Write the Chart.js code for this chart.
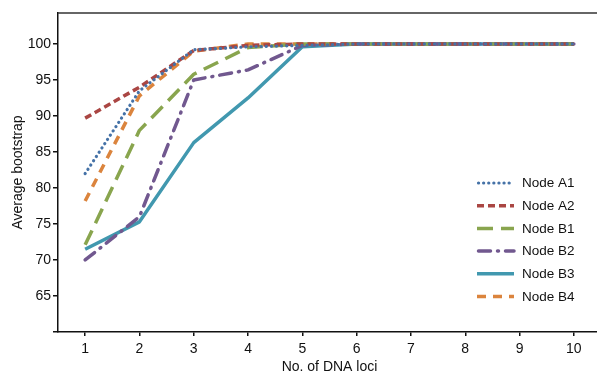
<!DOCTYPE html>
<html><head><meta charset="utf-8">
<script src="https://cdn.jsdelivr.net/npm/chart.js@4/dist/chart.umd.min.js"></script>
<style>
html,body{margin:0;padding:0;background:#fff;overflow:hidden;}
#wrap{width:601px;height:376px;position:relative;}
</style></head>
<body><div id="wrap"><canvas id="c"></canvas></div>
<script>
const loci = [1,2,3,4,5,6,7,8,9,10];
const yTicks = [60,65,70,75,80,85,90,95,100];
const nodeA1 = [82.0, 93.5, 99.2, 99.6, 99.8, 100, 100, 100, 100, 100];
const nodeA2 = [89.7, 94.0, 99.1, 99.8, 100, 100, 100, 100, 100, 100];
const nodeB1 = [72.1, 88.0, 95.8, 99.5, 100, 100, 100, 100, 100, 100];
const nodeB2 = [70.0, 76.0, 95.0, 96.4, 99.8, 100, 100, 100, 100, 100];
const nodeB3 = [71.5, 75.3, 86.3, 92.5, 99.6, 100, 100, 100, 100, 100];
const nodeB4 = [78.2, 92.8, 99.0, 100, 100, 100, 100, 100, 100, 100];
const seriesNames = ['Node A1','Node A2','Node B1','Node B2','Node B3','Node B4'];

const styles = [
  {color:'#4572A7', dash:[0.1,5], cap:'round', w:3.2},
  {color:'#AA4643', dash:[7,4], cap:'butt', w:3.5},
  {color:'#89A54E', dash:[16,8], cap:'butt', w:3.5},
  {color:'#71588F', dash:[12,7,1,7], cap:'round', w:3.5},
  {color:'#4198AF', dash:[], cap:'butt', w:3.5},
  {color:'#DB843D', dash:[9,7], cap:'butt', w:3.5}
];
const series = [nodeA1,nodeA2,nodeB1,nodeB2,nodeB3,nodeB4];
const datasets = series.map((vals,i)=>({
  label: seriesNames[i],
  data: vals.map((v,j)=>({x: loci[j], y: v})),
  borderColor: styles[i].color,
  borderWidth: styles[i].w,
  borderDash: styles[i].dash,
  borderCapStyle: styles[i].cap,
  borderJoinStyle: 'round',
  pointRadius: 0,
  tension: 0,
  fill: false
}));

const FONT = "'Liberation Sans', Arial, sans-serif";

const extras = {
  id:'extras',
  afterDraw(chart){
    const ctx = chart.ctx, ca = chart.chartArea;
    ctx.save();
    ctx.strokeStyle = '#333';
    ctx.lineWidth = 1.5;
    ctx.beginPath();
    ctx.moveTo(ca.left, ca.top);
    ctx.lineTo(chart.width, ca.top);
    ctx.stroke();
    const x0 = 477, x1 = 514, tx = 522, y0 = 183, dy = 22.7;
    ctx.font = "13.5px " + FONT;
    ctx.textBaseline = 'middle';
    ctx.textAlign = 'left';
    styles.forEach((s,i)=>{
      const y = y0 + i*dy;
      ctx.strokeStyle = s.color;
      ctx.lineWidth = s.w;
      ctx.setLineDash(s.dash);
      ctx.lineCap = s.cap;
      ctx.beginPath();
      ctx.moveTo(x0 + (s.cap==='round'?1.5:0), y);
      ctx.lineTo(x1, y);
      ctx.stroke();
      ctx.setLineDash([]);
      ctx.fillStyle = '#111';
      ctx.fillText(seriesNames[i], tx, y+0.5);
    });
    ctx.restore();
  }
};

new Chart(document.getElementById('c'), {
  type:'line',
  data:{datasets},
  options:{
    responsive:true, maintainAspectRatio:false, animation:false,
    layout:{padding:{top:13,left:0,right:0,bottom:0}},
    plugins:{legend:{display:false}, tooltip:{enabled:false}},
    scales:{
      x:{
        type:'linear', min:0.5, max:10.5,
        afterBuildTicks(s){ s.ticks = loci.map(v=>({value:v})); },
        afterFit(s){ s.height = 44; },
        grid:{display:true, drawOnChartArea:false, drawTicks:true, tickLength:4, color:'#111', lineWidth:1.5},
        border:{display:true, color:'#111', width:1.5},
        ticks:{color:'#111', font:{family:FONT, size:14}, padding:5, maxRotation:0,
          callback:(v)=>String(v)},
        title:{display:true, text:'No. of DNA loci', color:'#111', font:{family:FONT, size:14}, padding:{top:0,bottom:0}}
      },
      y:{
        type:'linear', min:60, max:104.3,
        afterBuildTicks(s){ s.ticks = yTicks.map(v=>({value:v})); },
        afterFit(s){ s.width = 58; },
        grid:{display:true, drawOnChartArea:false, drawTicks:true, tickLength:5, color:'#111', lineWidth:1.5},
        border:{display:true, color:'#111', width:1.5},
        ticks:{color:'#111', font:{family:FONT, size:14}, padding:2,
          callback:(v)=> v===60 ? '' : String(v)},
        title:{display:true, text:'Average bootstrap', color:'#111', font:{family:FONT, size:14}, padding:{top:10,bottom:0}}
      }
    }
  },
  plugins:[extras]
});
</script></body></html>
